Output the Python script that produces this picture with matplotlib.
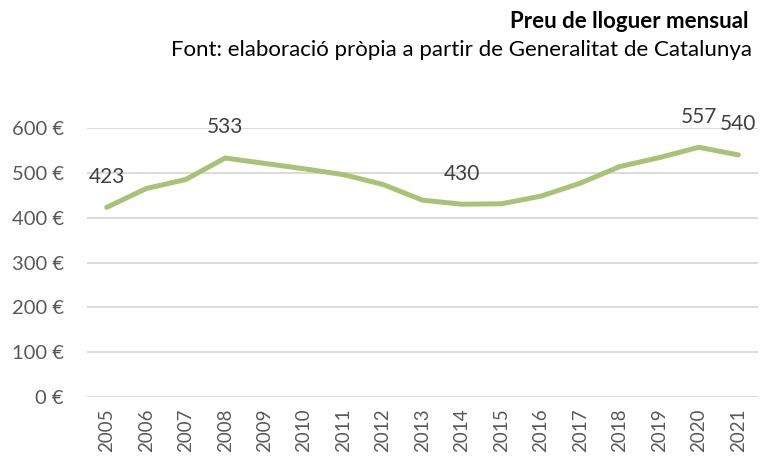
import matplotlib
matplotlib.use("Agg")
import matplotlib.pyplot as plt

years = [str(y) for y in range(2005, 2022)]
rent = [423, 465, 485, 533, 521, 509, 496, 474, 439, 430, 431, 448, 477, 514, 534, 557, 540]
labelled_years = ["2005", "2008", "2014", "2020", "2021"]
y_ticks = [0, 100, 200, 300, 400, 500, 600]

LINE_COLOR = "#a9c376"
TEXT_COLOR = "#595959"
GRID_COLOR = "#d9d9d9"

plt.rcParams["font.family"] = ["Lato", "DejaVu Sans"]

fig = plt.figure(figsize=(7.6, 4.58), dpi=100)
ax = fig.add_axes([87 / 760, 1 - 397 / 458, 671 / 760, 269 / 458])

x = list(range(len(years)))
ax.plot(x, rent, color=LINE_COLOR, linewidth=3.6, solid_capstyle="round", zorder=3)

# data labels only on the highlighted years
for xi, yr, val in zip(x, years, rent):
    if yr in labelled_years:
        ax.annotate(str(val), (xi, val), xytext=(0, 22), textcoords="offset points",
                    ha="center", va="center", fontsize=15, color="#404040")

ax.set_xlim(-0.5, len(years) - 0.5)
ax.set_ylim(0, 600)
ax.set_yticks(y_ticks)
ax.set_yticklabels([f"{v} €" for v in y_ticks])
ax.set_xticks(x)
ax.set_xticklabels(years, rotation=90, va="top")
ax.tick_params(axis="y", length=0, labelsize=14.5, colors=TEXT_COLOR, pad=16.5)
# years kept a bit smaller so they fit inside the figure
ax.tick_params(axis="x", length=0, labelsize=13.5, colors=TEXT_COLOR, pad=8)
ax.grid(axis="y", color=GRID_COLOR, linewidth=1.3)
ax.set_axisbelow(True)
for spine in ax.spines.values():
    spine.set_visible(False)

fig.text(748 / 760, 1 - 21 / 458, "Preu de lloguer mensual", ha="right", va="center",
         fontsize=16, fontweight="bold", color="#000000")
fig.text(752 / 760, 1 - 50 / 458, "Font: elaboració pròpia a partir de Generalitat de Catalunya",
         ha="right", va="center", fontsize=16, color="#000000")

fig.savefig("out.png", dpi=100)
